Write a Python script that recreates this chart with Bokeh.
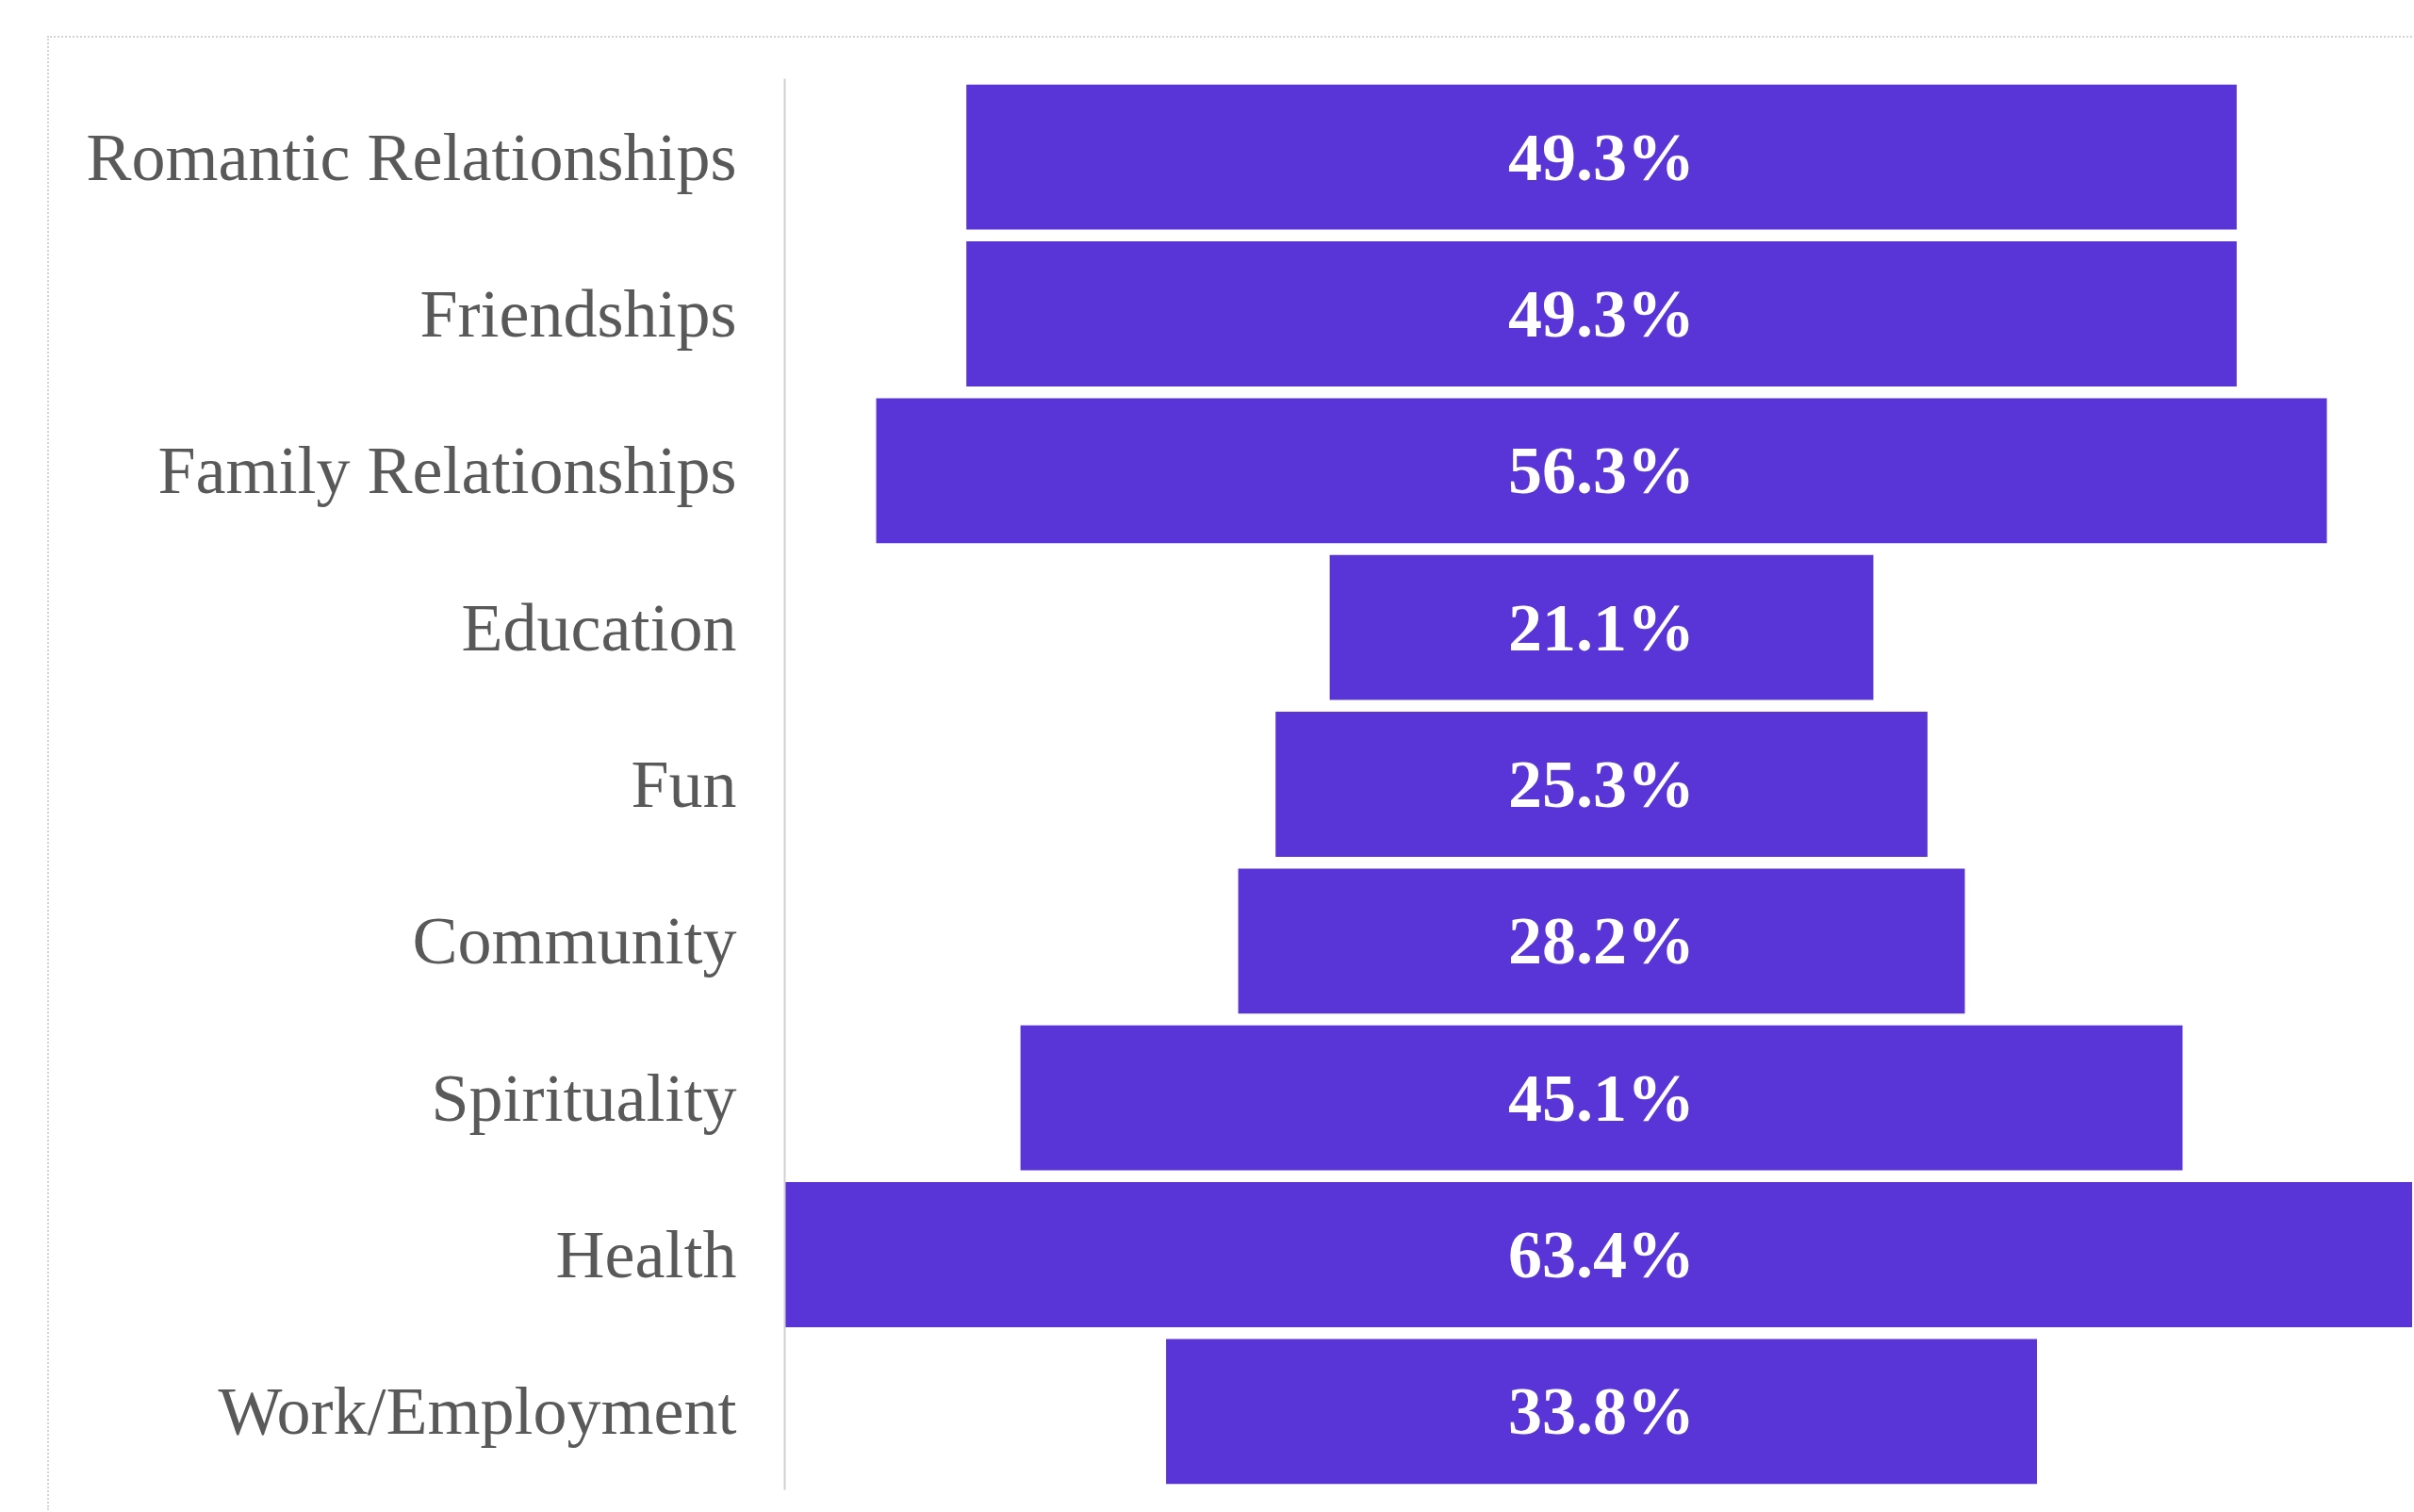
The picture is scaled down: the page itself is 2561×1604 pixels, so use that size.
from bokeh.plotting import figure
from bokeh.models import ColumnDataSource, FactorRange, Range1d
from bokeh.core.properties import value
from bokeh.embed import file_html
from bokeh.resources import INLINE

categories = ["Romantic Relationships", "Friendships", "Family Relationships",
              "Education", "Fun", "Community", "Spirituality", "Health",
              "Work/Employment"]
values = [49.3, 49.3, 56.3, 21.1, 25.3, 28.2, 45.1, 63.4, 33.8]
labels = [f"{v:.1f}%" for v in values]

src = ColumnDataSource(dict(
    cat=categories,
    left=[-v / 2 for v in values],
    right=[v / 2 for v in values],
    mid=[0.0] * len(values),
    lab=labels,
))

p = figure(
    width=2509, height=1564,
    y_range=FactorRange(factors=list(reversed(categories)), range_padding=0),
    x_range=Range1d(-max(values) / 2, 31.55),
    output_backend="svg", toolbar_location=None,
    min_border_left=780, min_border_right=0, min_border_top=43, min_border_bottom=24,
)
p.margin = (38, 0, 0, 50)
p.styles = {"border-top": "2px dotted #d4d4d4", "border-left": "2px dotted #d4d4d4"}

p.hbar(y="cat", left="left", right="right", height=0.925, source=src,
       fill_color="#5934D6", line_color=None)
p.text(x="mid", y="cat", text="lab", source=src, text_color="white",
       text_font=value("Liberation Serif"), text_font_style="bold",
       text_font_size="72px", text_align="center", text_baseline="middle")

p.xaxis.visible = False
p.xgrid.visible = False
p.ygrid.visible = False
p.outline_line_color = None
ax = p.yaxis[0]
ax.axis_line_color = "#d0d0d0"
ax.axis_line_width = 2
ax.major_tick_line_color = None
ax.minor_tick_line_color = None
ax.major_label_standoff = 45
ax.major_label_text_font = "Liberation Serif"
ax.major_label_text_font_size = "72px"
ax.major_label_text_color = "#595959"

open("out.html", "w").write(file_html(p, INLINE))
